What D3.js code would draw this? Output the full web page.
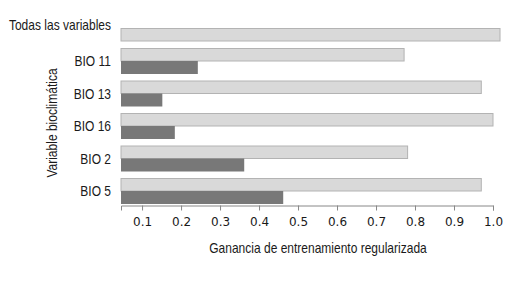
<!DOCTYPE html>
<html>
<head>
<meta charset="utf-8">
<script src="https://cdn.jsdelivr.net/npm/d3@7"></script>
<style>
  body { margin: 0; background: #fff; }
  .lbl { font-family: "Liberation Sans", Arial, sans-serif; font-size: 15px; fill: #1a1a1a; }
  .tick text { font-family: "DejaVu Sans", Verdana, sans-serif; font-size: 12px; fill: #1a1a1a; }
</style>
</head>
<body>
<svg id="drawing_region"></svg>
<script>
const categories = ['BIO 11', 'BIO 13', 'BIO 16', 'BIO 2', 'BIO 5'];
const withoutVar = [0.772, 0.970, 1.000, 0.781, 0.970];   // light bars
const onlyVar = [0.243, 0.152, 0.184, 0.362, 0.462];      // dark bars
const allLabel = 'Todas las variables';
const allValue = 1.018;
const tickValues = [0.1, 0.2, 0.3, 0.4, 0.5, 0.6, 0.7, 0.8, 0.9, 1.0];

const width = 522, height = 294;
const svg = d3.select('#drawing_region')
    .attr('width', width)
    .attr('height', height);

const xscale = d3.scaleLinear()
    .domain([0.046, 1.0])
    .range([121, 493]);

const yscale = d3.scaleBand()
    .domain(categories)
    .range([48, 204])
    .paddingInner(0.2)
    .paddingOuter(0);

const half = yscale.bandwidth() / 2;
const x0 = xscale(xscale.domain()[0]);

const rows = categories.map((c, i) => ({ cat: c, light: withoutVar[i], dark: onlyVar[i] }));

// light bars
svg.selectAll('.light')
    .data(rows)
    .enter()
    .append('rect')
    .attr('x', x0)
    .attr('y', d => yscale(d.cat) + 0.5)
    .attr('width', d => xscale(d.light) - x0)
    .attr('height', half - 0.5)
    .attr('fill', '#d9d9d9')
    .attr('stroke', '#b3b3b3')
    .attr('stroke-width', 1);

// dark bars
svg.selectAll('.dark')
    .data(rows)
    .enter()
    .append('rect')
    .attr('x', x0)
    .attr('y', d => yscale(d.cat) + half)
    .attr('width', d => xscale(d.dark) - x0)
    .attr('height', half)
    .attr('fill', '#787878');

// all variables bar
const allY = yscale.range()[0] - 20;
svg.append('rect')
    .attr('x', x0)
    .attr('y', allY + 0.5)
    .attr('width', xscale(allValue) - x0)
    .attr('height', half - 0.5)
    .attr('fill', '#d9d9d9')
    .attr('stroke', '#b3b3b3')
    .attr('stroke-width', 1);

// category labels
svg.selectAll('.cat')
    .data(rows)
    .enter()
    .append('text')
    .attr('class', 'lbl')
    .attr('x', 111)
    .attr('y', d => yscale(d.cat) + half)
    .attr('dy', '0.35em')
    .attr('text-anchor', 'end')
    .text(d => d.cat);

svg.append('text')
    .attr('class', 'lbl')
    .attr('x', 111)
    .attr('y', allY - 3)
    .attr('dy', '0.35em')
    .attr('text-anchor', 'end')
    .text(allLabel);

// x axis
const xaxis = d3.axisBottom(xscale)
    .tickValues(tickValues)
    .tickFormat(d3.format('.1f'))
    .tickSize(5)
    .tickSizeOuter(5)
    .tickPadding(7);

const xg = svg.append('g')
    .attr('transform', 'translate(0, 205.5)')
    .call(xaxis);
xg.select('.domain').attr('stroke', '#888');
xg.selectAll('.tick line').attr('stroke', '#888');

// axis titles
svg.append('text')
    .attr('class', 'lbl')
    .attr('x', 318)
    .attr('y', 248)
    .attr('dy', '0.35em')
    .attr('text-anchor', 'middle')
    .text('Ganancia de entrenamiento regularizada');

svg.append('text')
    .attr('class', 'lbl')
    .attr('transform', 'translate(52, 123) rotate(-90)')
    .attr('dy', '0.35em')
    .attr('text-anchor', 'middle')
    .text('Variable bioclimática');

// condensed look: squeeze the sans labels horizontally
svg.selectAll('.lbl').each(function() {
    const len = this.getComputedTextLength();
    d3.select(this)
        .attr('textLength', len * 0.8)
        .attr('lengthAdjust', 'spacingAndGlyphs');
});
</script>
</body>
</html>
